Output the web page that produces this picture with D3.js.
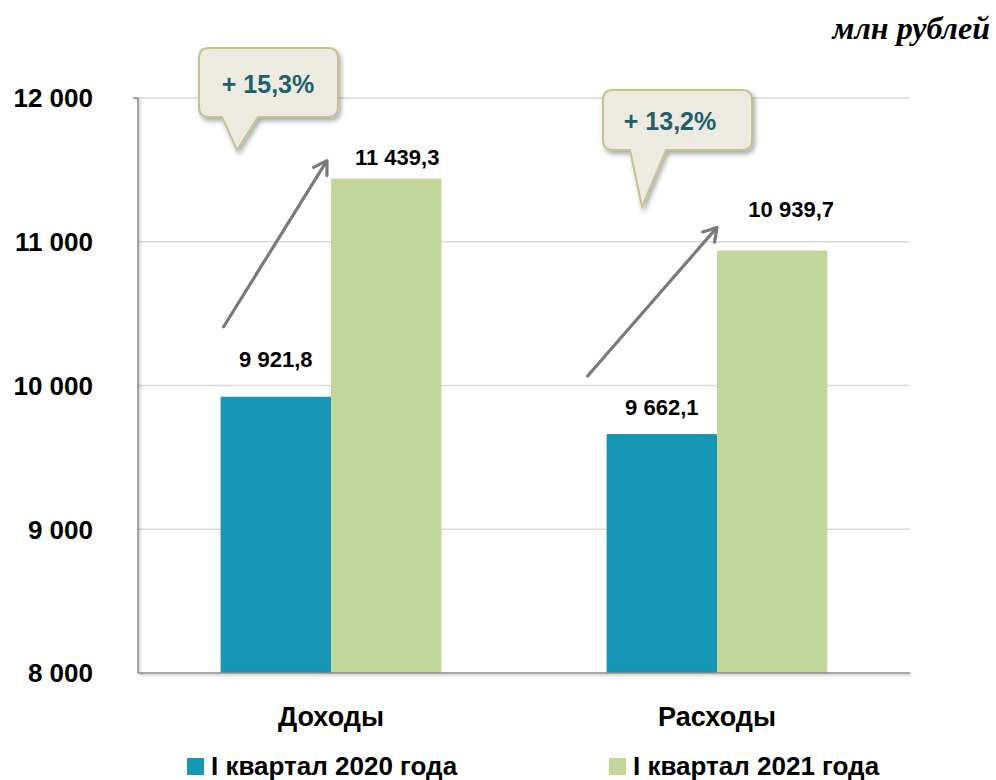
<!DOCTYPE html>
<html><head><meta charset="utf-8">
<script src="https://cdn.jsdelivr.net/npm/d3@7"></script>
<style>body{margin:0;background:#fff}</style>
</head><body>
<svg id="c" width="996" height="780"></svg>
<script>
const categories = ["Доходы", "Расходы"];
const seriesNames = ["I квартал 2020 года", "I квартал 2021 года"];
const values2020 = [9921.8, 9662.1];
const values2021 = [11439.3, 10939.7];
const yTicks = [8000, 9000, 10000, 11000, 12000];
const changeLabels = ["+ 15,3%", "+ 13,2%"];
const unitLabel = "млн рублей";

const colors = ["#1695B5", "#C4D79B"];
const narrow = "'Liberation Sans Narrow','Arial Narrow','Liberation Sans',Arial,sans-serif";
const fmt = v => {
  const s = v.toFixed(1).split(".");
  const int = s[0].replace(/\B(?=(\d{3})+(?!\d))/g, " ");
  return int + "," + s[1];
};
const fmtTick = v => String(v).replace(/\B(?=(\d{3})+(?!\d))/g, " ");

const svg = d3.select("#c");
const m = {l:138, r:910, t:98, b:673};
const x = d3.scaleBand().domain(categories).range([m.l, m.r]).paddingInner(0.428).paddingOuter(0.214);
const xs = d3.scaleBand().domain([0,1]).range([0, x.bandwidth()]);
const y = d3.scaleLinear().domain([8000, 12000]).range([m.b, m.t]);

const defs = svg.append("defs");
const f = defs.append("filter").attr("id","sh").attr("x","-20%").attr("y","-20%").attr("width","150%").attr("height","150%");
f.append("feDropShadow").attr("dx",2).attr("dy",3).attr("stdDeviation",2.5).attr("flood-color","#000").attr("flood-opacity",0.35);
const fa = defs.append("filter").attr("id","ash").attr("x","-10%").attr("y","-10%").attr("width","130%").attr("height","130%");
fa.append("feDropShadow").attr("dx",1.5).attr("dy",1.5).attr("stdDeviation",1).attr("flood-color","#000").attr("flood-opacity",0.3);

// gridlines
svg.append("g").selectAll("line").data(yTicks.filter(t=>t>8000)).join("line")
  .attr("x1", m.l).attr("x2", m.r).attr("y1", d=>y(d)).attr("y2", d=>y(d))
  .attr("stroke", "#d9d9d9").attr("stroke-width", 1.5);

// y labels
svg.append("g").selectAll("text").data(yTicks).join("text")
  .attr("x", 93).attr("y", d=>y(d)).attr("dy","0.36em").attr("text-anchor","end")
  .style("font-family", narrow).style("font-weight","bold").style("font-size","26px").attr("fill","#000")
  .text(fmtTick);

// bars
const data = categories.map((c,i)=>({c, v:[values2020[i], values2021[i]]}));
const g = svg.append("g").selectAll("g").data(data).join("g").attr("transform", d=>`translate(${x(d.c)},0)`);
g.selectAll("rect").data(d=>d.v.map((v,k)=>({v,k}))).join("rect")
  .attr("x", d=>xs(d.k)).attr("width", xs.bandwidth())
  .attr("y", d=>y(d.v)).attr("height", d=>y(8000)-y(d.v))
  .attr("fill", d=>colors[d.k]);

// axes lines
svg.append("g").attr("filter","url(#ash)").call(s=>{
  s.append("line").attr("x1",m.l).attr("x2",m.l).attr("y1",m.t).attr("y2",m.b).attr("stroke","#8c8c8c").attr("stroke-width",1.5);
  s.append("line").attr("x1",m.l).attr("x2",m.r).attr("y1",m.b).attr("y2",m.b).attr("stroke","#8c8c8c").attr("stroke-width",1.5);
  s.append("line").attr("x1",m.l-5).attr("x2",m.l).attr("y1",m.t).attr("y2",m.t).attr("stroke","#8c8c8c").attr("stroke-width",1.5);
});

// value labels (offsets relative to bar top / bar centre)
const labOff = [[[0,-30],[11,-14]],[[0,-19],[19,-33]]];
g.selectAll("text.val").data((d,i)=>d.v.map((v,k)=>({v,k,i}))).join("text").attr("class","val")
  .attr("x", d=>xs(d.k)+xs.bandwidth()/2+labOff[d.i][d.k][0]).attr("y", d=>y(d.v)+labOff[d.i][d.k][1])
  .attr("text-anchor","middle")
  .style("font-family", narrow).style("font-weight","bold").style("font-size","22px")
  .text(d=>fmt(d.v));

// category labels
svg.append("g").selectAll("text").data(categories).join("text")
  .attr("x", d=>x(d)+x.bandwidth()/2).attr("y", 726).attr("text-anchor","middle")
  .style("font-family", narrow).style("font-weight","bold").style("font-size","27px")
  .text(d=>d);

// legend
const legX = [187, 609];
const lg = svg.append("g").selectAll("g").data(seriesNames).join("g").attr("transform",(d,i)=>`translate(${legX[i]},766)`);
lg.append("rect").attr("x",0).attr("y",-8).attr("width",17).attr("height",17).attr("fill",(d,i)=>colors[i]);
lg.append("text").attr("x",24).attr("y",0).attr("dy","0.34em")
  .style("font-family", narrow).style("font-weight","bold").style("font-size","26px").text(d=>d);

// unit label
svg.append("text").attr("x",990).attr("y",39).attr("text-anchor","end")
  .style("font-family","'Liberation Serif','Times New Roman',serif").style("font-weight","bold").style("font-style","italic").style("font-size","32px")
  .text(unitLabel);

// arrows (growth indicators): from above the 2020 bar to the top of the 2021 bar
const arrowOff = [{x1:3, y1:-70, x2:-4, y2:-18}, {x1:-19, y1:-58, x2:0, y2:-23}];
data.forEach((d,i)=>{
  const bx = x(d.c);
  const x1 = bx + xs(0) + arrowOff[i].x1, y1 = y(d.v[0]) + arrowOff[i].y1;
  const x2 = bx + xs(1) + arrowOff[i].x2, y2 = y(d.v[1]) + arrowOff[i].y2;
  const ang = Math.atan2(y2-y1, x2-x1);
  const L = 15, a = 0.55;
  const ag = svg.append("g").attr("stroke","#7a7a7a").attr("stroke-width",3.2).attr("fill","none").attr("stroke-linecap","round").attr("stroke-linejoin","round");
  ag.append("line").attr("x1",x1).attr("y1",y1).attr("x2",x2-Math.cos(ang)*1).attr("y2",y2-Math.sin(ang)*1);
  ag.append("path").attr("d", `M${x2-L*Math.cos(ang-a)},${y2-L*Math.sin(ang-a)} L${x2},${y2} L${x2-L*Math.cos(ang+a)},${y2-L*Math.sin(ang+a)}`);
});

// callouts
const callouts = [{bx:199, by:48, w:139, h:69, tx1:222, tx2:258, px:237, py:150, cx:268, cy:84},
                  {bx:603, by:90, w:149, h:60, tx1:630, tx2:666, px:642, py:207, cx:670, cy:121}];
callouts.forEach((c,i)=>{
  const r = 10, x0=c.bx, y0=c.by, x1=c.bx+c.w, y1=c.by+c.h;
  const p = `M${x0+r},${y0} H${x1-r} Q${x1},${y0} ${x1},${y0+r} V${y1-r} Q${x1},${y1} ${x1-r},${y1} H${c.tx2} L${c.px},${c.py} L${c.tx1},${y1} H${x0+r} Q${x0},${y1} ${x0},${y1-r} V${y0+r} Q${x0},${y0} ${x0+r},${y0} Z`;
  svg.append("path").attr("d",p).attr("fill","#EDEBE0").attr("stroke","#C9C094").attr("stroke-width",2).attr("filter","url(#sh)");
  svg.append("text").attr("x", c.cx).attr("y", c.cy).attr("dy","0.36em").attr("text-anchor","middle")
    .style("font-family", narrow).style("font-weight","bold").style("font-size","25px").attr("fill","#215F6E")
    .text(changeLabels[i]);
});
</script>
</body></html>
